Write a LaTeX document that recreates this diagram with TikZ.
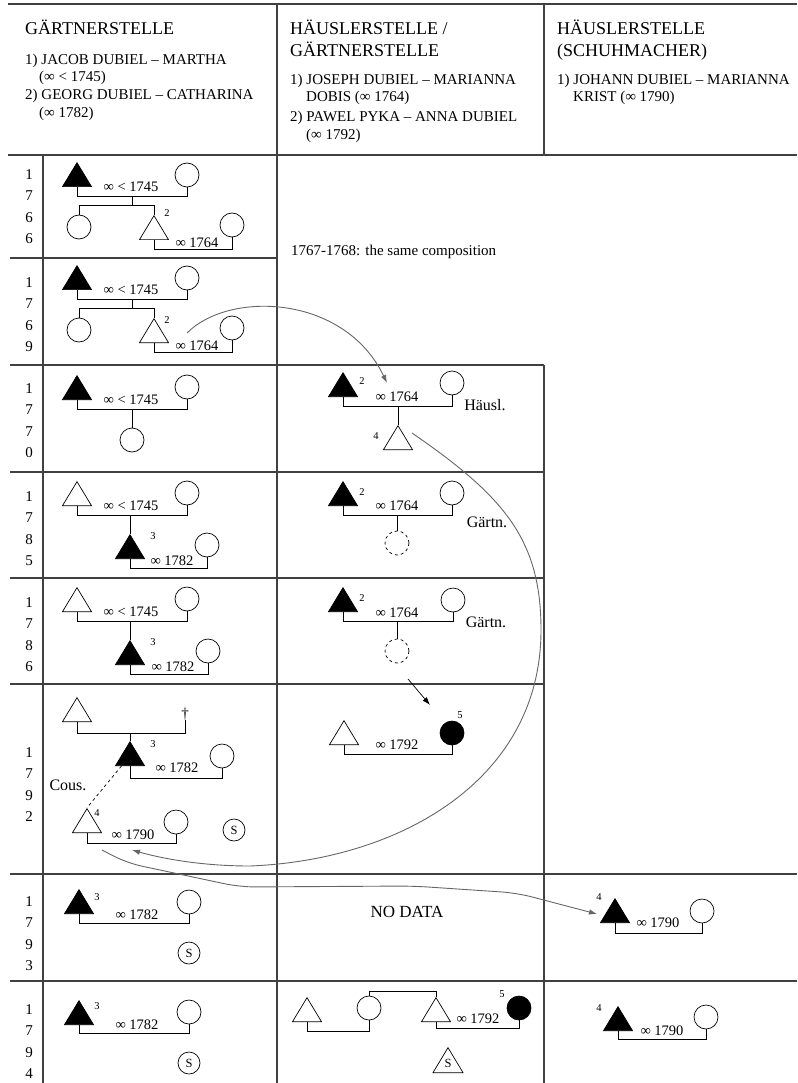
\documentclass[tikz,border=0pt]{standalone}
\usepackage{fontspec}
\setmainfont{Liberation Serif}
\usetikzlibrary{arrows.meta,shapes.geometric}

\begin{document}
\begin{tikzpicture}[x=1pt, y=-1pt,
    male/.style = {draw, isosceles triangle, isosceles triangle stretches, shape border rotate=90, minimum width=29pt, minimum height=24pt, inner sep=0pt, anchor=south, line width=0.7pt},
    head/.style = {male, fill=black},
    female/.style = {draw, circle, minimum size=24pt, inner sep=0pt, line width=0.7pt},
    heir/.style = {female, fill=black},
    absent/.style = {female, dashed},
    servant/.style = {female, minimum size=22pt, font=\fontsize{12.5}{12.5}\selectfont},
    hd/.style = {anchor=base west, inner sep=0pt, font=\fontsize{18}{20}\selectfont},
    hb/.style = {anchor=base west, inner sep=0pt, font=\fontsize{15}{17}\selectfont},
    mar/.style = {inner sep=0pt, font=\fontsize{14.5}{15}\selectfont},
    num/.style = {inner sep=0pt, font=\fontsize{10.5}{10.5}\selectfont},
    note/.style = {inner sep=0pt, font=\fontsize{16}{16}\selectfont},
    year/.style = {align=center, inner sep=0pt, anchor=north, font=\fontsize{15}{21.5}\selectfont},
    grid/.style = {draw=black!75, line width=1.2pt},
    kin/.style = {line width=0.7pt},
    move/.style = {draw=black!60, line width=0.9pt, -{Latex[length=8pt,width=5.5pt]}}]
    \useasboundingbox (0,0) rectangle (797,1083);

    % table
    \draw[grid] (8,4) -- (797,4);
    \draw[grid] (8,155) -- (797,155);
    \draw[grid] (277,4) -- (277,1083);
    \draw[grid] (544,4) -- (544,155);
    \draw[grid] (544,365) -- (544,1083);
    \draw[grid] (43,155) -- (43,1083);
    \draw[grid] (10,258) -- (277,258);
    \draw[grid] (10,365) -- (544,365);
    \draw[grid] (10,472) -- (544,472);
    \draw[grid] (10,578) -- (544,578);
    \draw[grid] (10,684) -- (544,684);
    \draw[grid] (10,874) -- (797,874);
    \draw[grid] (10,981) -- (797,981);

    % header
    \node[hd] (h1) at (25,35) {GÄRTNERSTELLE};
    \node[hb] (h1a) at (25,65) {1) JACOB DUBIEL – MARTHA};
    \node[hb] (h1b) at (39,82) {(∞ < 1745)};
    \node[hb] (h1c) at (25,100) {2) GEORG DUBIEL – CATHARINA};
    \node[hb] (h1d) at (39,118) {(∞ 1782)};
    \node[hd] (h2) at (290,35) {HÄUSLERSTELLE /};
    \node[hd] (h2x) at (290,57) {GÄRTNERSTELLE};
    \node[hb] (h2a) at (290,85) {1) JOSEPH DUBIEL – MARIANNA};
    \node[hb] (h2b) at (306,102) {DOBIS (∞ 1764)};
    \node[hb] (h2c) at (290,122) {2) PAWEL PYKA – ANNA DUBIEL};
    \node[hb] (h2d) at (306,140) {(∞ 1792)};
    \node[hd] (h3) at (557,35) {HÄUSLERSTELLE};
    \node[hd] (h3x) at (557,57) {(SCHUHMACHER)};
    \node[hb] (h3a) at (557,85) {1) JOHANN DUBIEL – MARIANNA};
    \node[hb] (h3b) at (573,102) {KRIST (∞ 1790)};

    % years
    \node[year] (y1766) at (29,169) {1\\7\\6\\6};
    \node[year] (y1769) at (29,277) {1\\7\\6\\9};
    \node[year] (y1770) at (29,383) {1\\7\\7\\0};
    \node[year] (y1785) at (29,491) {1\\7\\8\\5};
    \node[year] (y1786) at (29,597) {1\\7\\8\\6};
    \node[year] (y1792) at (29,747) {1\\7\\9\\2};
    \node[year] (y1793) at (29,896) {1\\7\\9\\3};
    \node[year] (y1794) at (29,1004) {1\\7\\9\\4};

    % 1766
    \node[head] (m66a) at (77,187) {};
    \node[female] (f66a) at (187,175) {};
    \draw[kin] (m66a.south) -- ++(0,9) -| (f66a.south);
    \node[mar] (l66a) at (131,187) {∞ < 1745};
    \coordinate (k66) at (132,196);
    \node[female] (f66b) at (79,227) {};
    \node[male] (m66b) at (154,240) {};
    \node[num] (n66) at (167,213) {2};
    \node[female] (f66c) at (232,225) {};
    \draw[kin] (k66) -- ++(0,9) -| (f66b.north);
    \draw[kin] (k66) ++(0,9) -| (m66b.north);
    \draw[kin] (m66b.south) -- ++(0,9) -| (f66c.south);
    \node[mar] (l66b) at (197,243) {∞ 1764};
    \node[hb, anchor=west] (same) at (291,252) {1767-1768: the same composition};

    % 1769
    \node[head] (m69a) at (77,290) {};
    \node[female] (f69a) at (187,278) {};
    \draw[kin] (m69a.south) -- ++(0,9) -| (f69a.south);
    \node[mar] (l69a) at (131,290) {∞ < 1745};
    \coordinate (k69) at (132,299);
    \node[female] (f69b) at (79,330) {};
    \node[male] (m69b) at (154,343) {};
    \node[num] (n69) at (167,320) {2};
    \node[female] (f69c) at (232,328) {};
    \draw[kin] (k69) -- ++(0,9) -| (f69b.north);
    \draw[kin] (k69) ++(0,9) -| (m69b.north);
    \draw[kin] (m69b.south) -- ++(0,9) -| (f69c.south);
    \node[mar] (l69b) at (197,346) {∞ 1764};
    \coordinate (s1) at (187,333);
    \coordinate (e1) at (387,383);
    \draw[move] (s1) .. controls (230,290) and (345,295) .. (e1);

    % 1770
    \node[head] (m70a) at (77,400) {};
    \node[female] (f70a) at (187,387) {};
    \draw[kin] (m70a.south) -- ++(0,9) -| (f70a.south);
    \node[mar] (l70a) at (131,400) {∞ < 1745};
    \coordinate (k70) at (132,409);
    \node[female] (f70b) at (132,440) {};
    \draw[kin] (k70) -- (f70b.north);
    \node[head] (m70c) at (343,397) {};
    \node[num] (n70c) at (362,381) {2};
    \node[female] (f70c) at (452,383) {};
    \draw[kin] (m70c.south) -- ++(0,9) -| (f70c.south);
    \node[mar] (l70c) at (397,397) {∞ 1764};
    \node[note] (t70) at (485,405) {Häusl.};
    \coordinate (k70c) at (398,406);
    \node[male] (m70d) at (398,450) {};
    \node[num] (n70d) at (376,436) {4};
    \draw[kin] (k70c) -- (m70d.north);
    \coordinate (s2) at (412,433);
    \coordinate (e2) at (132,850);
    \draw[move] (s2) .. controls (505,497) and (541,540) .. (541,630)
        .. controls (541,780) and (400,860) .. (250,866)
        .. controls (200,866) and (160,858) .. (e2);

    % 1785
    \node[male] (m85a) at (77,506) {};
    \node[female] (f85a) at (187,493) {};
    \draw[kin] (m85a.south) -- ++(0,9) -| (f85a.south);
    \node[mar] (l85a) at (131,506) {∞ < 1745};
    \coordinate (k85) at (130,515);
    \node[head] (m85b) at (130,559) {};
    \node[num] (n85) at (153,536) {3};
    \node[female] (f85b) at (207,545) {};
    \draw[kin] (k85) -- (m85b.north);
    \draw[kin] (m85b.south) -- ++(0,9) -| (f85b.south);
    \node[mar] (l85b) at (172,561) {∞ 1782};
    \node[head] (m85c) at (343,506) {};
    \node[num] (n85c) at (362,492) {2};
    \node[female] (f85c) at (452,493) {};
    \draw[kin] (m85c.south) -- ++(0,9) -| (f85c.south);
    \node[mar] (l85c) at (397,506) {∞ 1764};
    \node[note] (t85) at (487,522) {Gärtn.};
    \coordinate (k85c) at (397,515);
    \node[absent] (f85d) at (397,543) {};
    \draw[kin] (k85c) -- (f85d.north);

    % 1786
    \node[male] (m86a) at (77,612) {};
    \node[female] (f86a) at (187,599) {};
    \draw[kin] (m86a.south) -- ++(0,9) -| (f86a.south);
    \node[mar] (l86a) at (131,612) {∞ < 1745};
    \coordinate (k86) at (130,621);
    \node[head] (m86b) at (130,665) {};
    \node[num] (n86) at (153,642) {3};
    \node[female] (f86b) at (208,651) {};
    \draw[kin] (k86) -- (m86b.north);
    \draw[kin] (m86b.south) -- ++(0,9) -| (f86b.south);
    \node[mar] (l86b) at (173,667) {∞ 1782};
    \node[head] (m86c) at (343,612) {};
    \node[num] (n86c) at (362,598) {2};
    \node[female] (f86c) at (453,600) {};
    \draw[kin] (m86c.south) -- ++(0,9) -| (f86c.south);
    \node[mar] (l86c) at (397,613) {∞ 1764};
    \node[note] (t86) at (486,622) {Gärtn.};
    \coordinate (k86c) at (397,621);
    \node[absent] (f86d) at (397,651) {};
    \draw[kin] (k86c) -- (f86d.north);
    \coordinate (s3) at (408,679);
    \coordinate (e3) at (430,705);
    \draw[kin, -{Latex[length=8pt,width=5.5pt]}] (s3) -- (e3);

    % 1792
    \node[male] (m92a) at (77,722) {};
    \node[hb, anchor=south] (d92) at (185,720) {†};
    \draw[kin] (m92a.south) -- ++(0,11) -| (d92.south);
    \coordinate (k92) at (130,733);
    \node[head] (m92b) at (130,766) {};
    \node[num] (n92) at (153,744) {3};
    \node[female] (f92b) at (222,756) {};
    \draw[kin] (k92) -- (m92b.north);
    \draw[kin] (m92b.south) -- ++(0,12) -| (f92b.south);
    \node[mar] (l92b) at (177,768) {∞ 1782};
    \node[note] (c92) at (68,785) {Cous.};
    \node[male] (m92c) at (87,833) {};
    \node[num] (n92c) at (97,813) {4};
    \node[female] (f92c) at (176,822) {};
    \draw[kin] (m92c.south) -- ++(0,10) -| (f92c.south);
    \node[mar] (l92c) at (133,835) {∞ 1790};
    \node[servant] (s92) at (234,830) {S};
    \draw[kin, dashed] (m92b.south west) -- (m92c.north);
    \node[male] (m92d) at (344,745) {};
    \node[heir] (f92d) at (452,733) {};
    \node[num] (n92d) at (460,715) {5};
    \draw[kin] (m92d.south) -- ++(0,9) -| (f92d.south);
    \node[mar] (l92d) at (397,745) {∞ 1792};
    \coordinate (s4) at (102,850);
    \coordinate (e4) at (597,914);
    \draw[move, rounded corners=15pt] (s4) -- (127,863) -- (240,887) -- (413,886) -- (517,893) -- (e4);

    % 1793
    \node[head] (m93a) at (79,914) {};
    \node[num] (n93a) at (97,897) {3};
    \node[female] (f93a) at (189,902) {};
    \draw[kin] (m93a.south) -- ++(0,9) -| (f93a.south);
    \node[mar] (l93a) at (137,915) {∞ 1782};
    \node[servant] (s93) at (189,953) {S};
    \node[note, font=\fontsize{17}{17}\selectfont] (nd93) at (407,912) {NO DATA};
    \node[num] (n93r) at (599,897) {4};
    \node[head] (m93r) at (615,923) {};
    \node[female] (f93r) at (702,911) {};
    \draw[kin] (m93r.south) -- ++(0,10) -| (f93r.south);
    \node[mar] (l93r) at (658,923) {∞ 1790};

    % 1794
    \node[head] (m94a) at (79,1025) {};
    \node[num] (n94a) at (97,1006) {3};
    \node[female] (f94a) at (189,1012) {};
    \draw[kin] (m94a.south) -- ++(0,8) -| (f94a.south);
    \node[mar] (l94a) at (137,1025) {∞ 1782};
    \node[servant] (s94) at (189,1063) {S};
    \node[male] (m94b) at (307,1022) {};
    \node[female] (f94b) at (369,1008) {};
    \draw[kin] (m94b.south) -- ++(0,9) -| (f94b.south);
    \node[male] (m94c) at (436,1022) {};
    \draw[kin] (f94b.north) -- ++(0,-4) -| (m94c.north);
    \node[heir] (f94c) at (519,1008) {};
    \node[num] (n94c) at (502,994) {5};
    \draw[kin] (m94c.south) -- ++(0,6) -| (f94c.south);
    \node[mar] (l94c) at (478,1019) {∞ 1792};
    \node[male, minimum height=25pt, minimum width=30pt] (s94b) at (448,1073) {};
    \node[num, font=\fontsize{12.5}{12.5}\selectfont] (s94t) at (448,1063) {S};
    \node[num] (n94r) at (599,1008) {4};
    \node[head] (m94r) at (618,1031) {};
    \node[female] (f94r) at (706,1017) {};
    \draw[kin] (m94r.south) -- ++(0,8) -| (f94r.south);
    \node[mar] (l94r) at (662,1031) {∞ 1790};
\end{tikzpicture}
\end{document}
